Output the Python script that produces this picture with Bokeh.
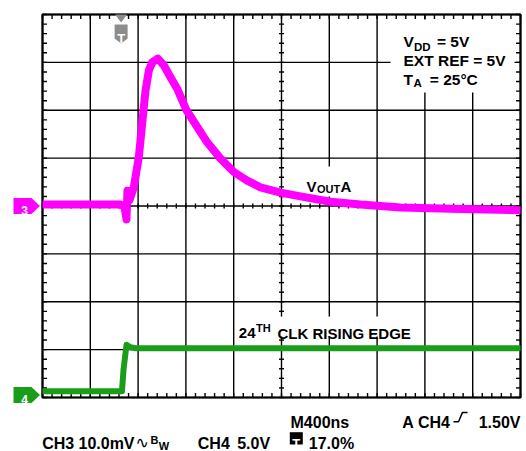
import numpy as np
from bokeh.plotting import figure
from bokeh.models import Range1d, Label, PolyAnnotation
from bokeh.embed import file_html
from bokeh.resources import INLINE

# ---------------- data (read from the scope capture) ----------------
# CH3: V_OUT A, 10.0 mV/div, centred on screen
ch3_time_ns = [0, 653, 686, 703, 711, 728, 764, 806, 834, 862, 890, 918, 965, 1015,
               1071, 1127, 1205, 1295, 1378, 1490, 1601, 1713, 1824, 1992, 2159,
               2410, 2661, 2996, 3414, 4000]
ch3_mv = [0.3, 0.3, -0.1, -2.8, 3.2, 1.2, 3.9, 10.2, 17.2, 24.1, 28.3, 30.0, 30.8, 29.4,
          26.9, 24.5, 20.0, 16.5, 13.3, 9.9, 7.1, 5.3, 3.9, 2.8, 2.0,
          0.9, 0.3, -0.3, -0.6, -0.9]
# CH4: 24th CLK rising edge, 5.0 V/div, ground at bottom of screen
ch4_time_ns = [0, 665, 678, 703, 736, 778, 4000]
ch4_volts = [0.65, 0.65, 2.9, 5.5, 5.25, 5.15, 5.15]

time_per_div_ns = 400
n_hdiv = 10
n_vdiv = 8
ch3_mv_per_div = 10.0
ch4_v_per_div = 5.0
ch3_ground_div = 0
ch4_ground_div = -4
trigger_marker_ns = 658

MAGENTA = "#ff00ff"
GREEN = "#1a9e1a"
GRAY = "#8c8c8c"
FONT = "Liberation Sans"

t_end = time_per_div_ns * n_hdiv
half_v = n_vdiv / 2

# scope screen geometry in canvas pixels
FL, FR, FT, FB = 42, 520, 14, 397
W, H = 526, 451
PX_X = (FR - FL) / t_end
PX_Y = (FB - FT) / n_vdiv
YC = (FT + FB) / 2


def dx(px):
    return (px - FL) / PX_X


def dy(py):
    return (YC - py) / PX_Y


p = figure(width=W, height=H, x_range=Range1d(dx(0), dx(W)), y_range=Range1d(dy(H), dy(0)),
           x_axis_type=None, y_axis_type=None, toolbar_location=None, output_backend="svg",
           min_border=0)
p.outline_line_color = None
p.background_fill_color = "white"
p.border_fill_color = "white"

# graticule
vx = np.arange(0, t_end + 1, time_per_div_ns)
hy = np.arange(-half_v, half_v + 0.01, 1)
p.segment(x0=vx, x1=vx, y0=-half_v, y1=half_v, line_color="black", line_width=1.4)
p.segment(x0=0, x1=t_end, y0=hy, y1=hy, line_color="black", line_width=1.4)
p.quad(left=[0], right=[t_end], bottom=[-half_v], top=[half_v], fill_color=None,
       line_color="black", line_width=2.2)

# minor ticks: 5 per division
mx = np.arange(0, t_end + 1, time_per_div_ns / 5)
my = np.arange(-half_v, half_v + 0.01, 0.2)
te_y = 4.5 / PX_Y
te_x = 4.5 / PX_X
tc_y = 2.5 / PX_Y
tc_x = 2.5 / PX_X
tick = dict(line_color="black", line_width=1.4)
p.segment(x0=mx, x1=mx, y0=half_v, y1=half_v - te_y, **tick)
p.segment(x0=mx, x1=mx, y0=-half_v, y1=-half_v + te_y, **tick)
p.segment(x0=0, x1=te_x, y0=my, y1=my, **tick)
p.segment(x0=t_end, x1=t_end - te_x, y0=my, y1=my, **tick)
p.segment(x0=mx, x1=mx, y0=-tc_y, y1=tc_y, **tick)
p.segment(x0=t_end / 2 - tc_x, x1=t_end / 2 + tc_x, y0=my, y1=my, **tick)

# white backgrounds behind annotation texts
p.quad(left=[dx(390), dx(236), dx(304)], right=[dx(514), dx(422), dx(358)],
       top=[dy(19), dy(316), dy(166)], bottom=[dy(92), dy(336), dy(196)],
       fill_color="white", line_color=None)

# traces
p.line(ch3_time_ns, np.array(ch3_mv) / ch3_mv_per_div + ch3_ground_div,
       line_color=MAGENTA, line_width=8, line_join="round")
p.line(ch4_time_ns, np.array(ch4_volts) / ch4_v_per_div + ch4_ground_div,
       line_color=GREEN, line_width=6, line_join="round")


def poly(pts, fill, line=None, lw=1.5):
    p.add_layout(PolyAnnotation(xs=[dx(a) for a, b in pts], ys=[dy(b) for a, b in pts],
                                fill_color=fill if fill else "white", fill_alpha=1 if fill else 0,
                                line_color=line if line else "white", line_width=lw,
                                line_alpha=1 if line else 0))


def lab(text, px, py, size="16px", color="black", align="left", font=FONT, style="bold"):
    p.add_layout(Label(x=dx(px), y=dy(py), text=text, text_font=font, text_font_style=style,
                       text_font_size=size, text_color=color, text_align=align,
                       text_baseline="alphabetic"))


# trigger position marker at top
tx = FL + trigger_marker_ns * PX_X
poly([(tx - 6, FT), (tx + 6, FT), (tx, FT + 8)], GRAY)
poly([(tx - 6.5, 24), (tx + 6.5, 24), (tx + 6.5, 38), (tx, 43), (tx - 6.5, 38)], GRAY)
lab("T", tx, 37.5, size="13px", color="white", align="center")

# channel ground markers
y3 = YC - ch3_ground_div * PX_Y
y4 = YC - ch4_ground_div * PX_Y - 2.5
poly([(13, y3 - 8), (31, y3 - 8), (39.5, y3), (31, y3 + 8), (13, y3 + 8)], MAGENTA)
lab("3", 24, y3 + 4.5, size="12px", color="white", align="center")
poly([(13, y4 - 8), (31, y4 - 8), (39.5, y4), (31, y4 + 8), (13, y4 + 8)], GREEN)
lab("4", 24, y4 + 4.5, size="12px", color="white", align="center")

# conditions box
lab("V", 403, 41, size="15.5px")
lab("DD", 413.5, 46, size="11.5px")
lab("= 5V", 436.5, 41, size="15.5px")
lab("EXT REF = 5V", 403, 59.5, size="15.5px")
lab("T", 403, 78.5, size="15.5px")
lab("A", 413, 82.7, size="11.5px")
lab("= 25°C", 429.3, 78.5, size="15.5px")

# trace labels
lab("V", 306, 186, size="15px")
lab("OUT", 316.5, 188.5, size="11px")
lab("A", 340, 185.5, size="15px")

lab("24", 238.3, 332.7, size="15px")
lab("TH", 255.5, 327.3, size="11px")
lab("CLK RISING EDGE", 277, 332.7, size="15px")

# scope settings readout
lab("M400ns", 290, 421.7)
lab("A", 401.7, 421.7)
lab("CH4", 417.5, 421.7)
poly([(453, 421.3), (458, 421.3), (462, 411.9), (467, 411.9), (462, 411.9), (458, 421.3)], None,
     line="black", lw=1.5)
lab("1.50V", 520, 421.7, align="right")

lab("CH3", 41.7, 443.3)
lab("10.0mV", 78, 443.3)
lab("\u223f", 135, 442, size="16px", font="DejaVu Sans", style="normal")
lab("B", 150, 439.3, size="11px")
lab("W", 158.3, 445.3, size="11px")
lab("CH4", 197.3, 443.3)
lab("5.0V", 236.7, 443.3)
poly([(289.3, 431.7), (302.3, 431.7), (302.3, 444), (289.3, 444)], "black")
lab("T", 295.8, 442.7, size="13px", color="white", align="center")
lab("17.0%", 308.3, 443.3)

open("out.html", "w").write(file_html(p, INLINE))
